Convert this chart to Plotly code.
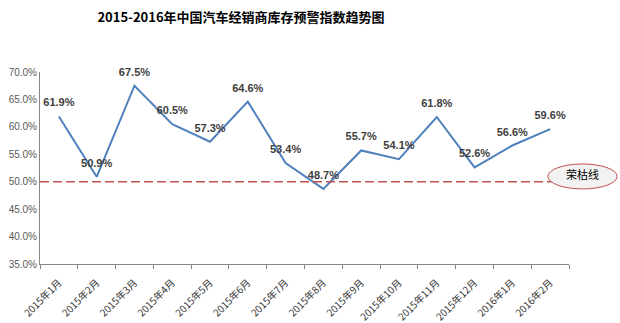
import plotly.graph_objects as go

# Monthly inventory warning index
months = ["2015年1月", "2015年2月", "2015年3月", "2015年4月", "2015年5月", "2015年6月",
          "2015年7月", "2015年8月", "2015年9月", "2015年10月", "2015年11月", "2015年12月",
          "2016年1月", "2016年2月"]
index_values = [61.9, 50.9, 67.5, 60.5, 57.3, 64.6, 53.4, 48.7, 55.7, 54.1, 61.8, 52.6, 56.6, 59.6]
threshold = 50.0
y_ticks = [35, 40, 45, 50, 55, 60, 65, 70]

fig = go.Figure()
fig.add_trace(go.Scatter(
    x=months, y=index_values, mode="lines+markers+text",
    line=dict(color="#4F81BD", width=2),
    marker=dict(size=10, opacity=0),
    text=[f"{v:.1f}%" for v in index_values],
    textposition="top center",
    textfont=dict(family="Liberation Sans, Noto Sans CJK SC", size=11, color="#404040", weight="bold"),
    cliponaxis=False, showlegend=False,
))

# Boom-bust reference line
fig.add_shape(type="line", xref="paper", yref="y", x0=0, x1=0.97, y0=threshold, y1=threshold,
              line=dict(color="#C0504D", width=1.5, dash="9px,4px"))
fig.add_shape(type="circle", xref="paper", yref="paper", x0=0.960, x1=1.091, y0=0.391, y1=0.521,
              line=dict(color="#C0504D", width=1), fillcolor="#F2F2F2", layer="above",
              label=dict(text="荣枯线", textposition="middle center",
                         font=dict(family="Noto Sans CJK SC", size=11, color="#000000")))

fig.update_layout(
    width=620, height=323,
    margin=dict(l=40, r=51, t=72, b=59),
    paper_bgcolor="white", plot_bgcolor="white",
    title=dict(text="<b>2015-2016年中国汽车经销商库存预警指数趋势图</b>", x=241 / 620, xanchor="center",
               y=1 - 17 / 323, yanchor="middle",
               font=dict(family="Noto Sans CJK SC", size=13, color="#000000")),
    xaxis=dict(type="category", range=[-0.5, 13.5], showline=True, linecolor="#868686", linewidth=1,
               ticks="outside", tickson="boundaries", ticklen=4, tickcolor="#868686",
               tickangle=-45, showgrid=False, ticklabelstandoff=8, automargin=False,
               tickfont=dict(family="Noto Sans CJK SC", size=10, color="#333333")),
    yaxis=dict(range=[35, 70], tickvals=y_ticks, ticktext=[f"{v:.1f}%" for v in y_ticks],
               showline=True, linecolor="#868686", linewidth=1, showgrid=False, zeroline=False,
               ticks="", automargin=False,
               tickfont=dict(family="Liberation Sans", size=10, color="#595959")),
)

fig.write_html("out.html")
